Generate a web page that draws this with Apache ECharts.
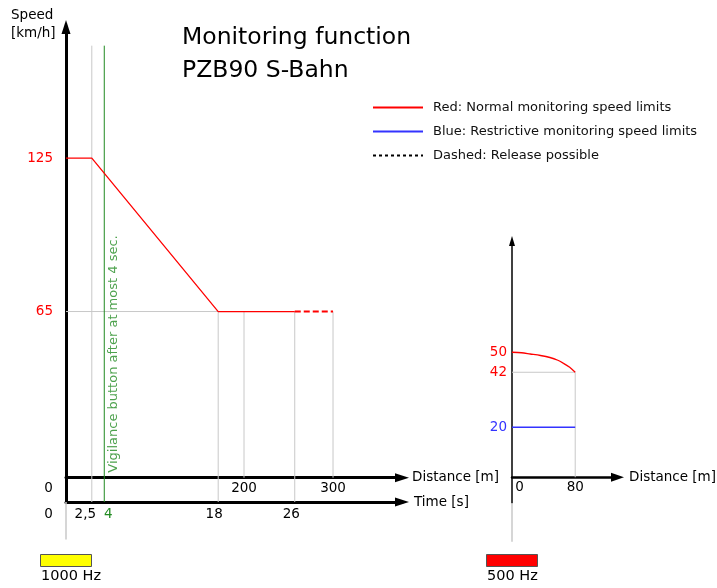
<!DOCTYPE html>
<html>
<head>
<meta charset="utf-8">
<title>Monitoring function PZB90 S-Bahn</title>
<script src="https://cdn.jsdelivr.net/npm/echarts@6/dist/echarts.min.js"></script>
<style>
  html, body { margin: 0; padding: 0; background: #fff; }
  #chart { width: 717px; height: 588px; }
</style>
</head>
<body>
<div id="chart"></div>
<script>
// left panel: distance [m] / speed [km/h]
const redDistance = [0, 29, 171, 257];
const redSpeed = [125, 125, 65, 65];
const releaseDistance = [257, 300];
const releaseSpeed = [65, 65];
const distanceTicks = [0, 200, 300];
const speedTicks = [125, 65];
const timeLabels = ['0', '2,5', '4', '18', '26'];
const timeDistance = [0, 29, 43, 171, 257];

// right panel (500 Hz)
const curveDistance = [0, 12, 23, 36, 48, 58, 65, 73, 80];
const curveSpeed = [50, 49.8, 49.3, 48.7, 47.9, 46.8, 45.6, 44.0, 42];
const blueDistance = [0, 80];
const blueSpeed = [20, 20];
const rightSpeedTicks = [50, 42, 20];
const rightDistanceTicks = [0, 80];

const FONT = 'DejaVu Sans';
const RED = '#ff0000';
const BLUE = '#3333ff';
const GREEN = '#228b22';
const GREY = '#c8c8c8';

const LEFT_YMIN = -9.5, LEFT_YMAX = 176.3, LEFT_XMAX = 377.5;
const RIGHT_YMIN = -10.3, RIGHT_YMAX = 94.5, RIGHT_XMAX = 133.5;

const NAME_RED = 'Red: Normal monitoring speed limits';
const NAME_BLUE = 'Blue: Restrictive monitoring speed limits';
const NAME_DASH = 'Dashed: Release possible';

const pairs = (xs, ys) => xs.map((x, i) => [x, ys[i]]);

function line(data, color, opts) {
  return Object.assign({
    type: 'line',
    data: data,
    symbol: 'none',
    silent: true,
    clip: false,
    animation: false,
    xAxisIndex: 0,
    yAxisIndex: 0,
    lineStyle: { color: color, width: 1 },
    itemStyle: { color: color },
    z: 2
  }, opts || {});
}

const txt = { color: '#000', fontSize: 13.5, fontFamily: FONT };

function axisLine(width, size) {
  return {
    onZero: false,
    lineStyle: { color: '#000', width: width },
    symbol: ['none', 'triangle'],
    symbolSize: size
  };
}

const chart = echarts.init(document.getElementById('chart'), null, { renderer: 'canvas' });

chart.setOption({
  animation: false,
  textStyle: { fontFamily: FONT },
  grid: [
    { left: 66, top: 27, width: 336, height: 475 },
    { left: 512, top: 241, width: 105.5, height: 262 }
  ],
  legend: {
    orient: 'vertical',
    left: 372,
    top: 101,
    padding: 0,
    itemWidth: 50,
    itemHeight: 14,
    itemGap: 11,
    selectedMode: false,
    itemStyle: { opacity: 0 },
    textStyle: { color: '#111', fontSize: 13, fontFamily: FONT, padding: [0, 0, 0, 5] },
    data: [
      { name: NAME_RED },
      { name: NAME_BLUE },
      { name: NAME_DASH, lineStyle: { color: '#000', type: [3, 3], width: 2 } }
    ]
  },
  xAxis: [
    {
      // distance axis sits at speed 0, above the time axis
      gridIndex: 0, type: 'value', min: 0, max: LEFT_XMAX, position: 'bottom', offset: -24.3,
      axisLine: axisLine(3, [9, 14]),
      axisTick: { show: false }, splitLine: { show: false },
      axisLabel: Object.assign({}, txt, {
        customValues: distanceTicks, margin: 4,
        formatter: v => v === 0 ? '{o|0}' : String(v),
        rich: { o: Object.assign({ padding: [0, 35, 0, 0] }, txt) }
      }),
      name: 'Distance [m]', nameLocation: 'end', nameGap: 10,
      nameTextStyle: Object.assign({ align: 'left', verticalAlign: 'middle' }, txt)
    },
    {
      gridIndex: 0, type: 'value', min: 0, max: LEFT_XMAX, position: 'bottom',
      axisLine: axisLine(3, [9, 14]),
      axisTick: { show: false }, splitLine: { show: false },
      axisLabel: Object.assign({}, txt, {
        customValues: timeDistance, margin: 5,
        formatter: v => {
          const i = timeDistance.indexOf(v);
          return '{t' + i + '|' + timeLabels[i] + '}';
        },
        rich: {
          t0: Object.assign({ padding: [0, 35, 0, 0] }, txt),
          t1: Object.assign({ padding: [0, 13, 0, 0] }, txt),
          t2: Object.assign({}, txt, { padding: [0, 0, 0, 8], color: GREEN }),
          t3: Object.assign({ padding: [0, 8, 0, 0] }, txt),
          t4: Object.assign({ padding: [0, 7, 0, 0] }, txt)
        }
      }),
      name: 'Time [s]', nameLocation: 'end', nameGap: 12,
      nameTextStyle: Object.assign({ align: 'left', verticalAlign: 'middle' }, txt)
    },
    {
      gridIndex: 1, type: 'value', min: 0, max: RIGHT_XMAX, position: 'bottom', offset: -25.7,
      axisLine: axisLine(2.5, [9, 13]),
      axisTick: { show: false }, splitLine: { show: false },
      axisLabel: Object.assign({}, txt, {
        customValues: rightDistanceTicks, margin: 3,
        formatter: v => v === 0 ? '{o|0}' : String(v),
        rich: { o: Object.assign({ padding: [0, 0, 0, 15] }, txt) }
      }),
      name: 'Distance [m]', nameLocation: 'end', nameGap: 11.5,
      nameTextStyle: Object.assign({ align: 'left', verticalAlign: 'middle' }, txt)
    }
  ],
  yAxis: [
    {
      gridIndex: 0, type: 'value', min: LEFT_YMIN, max: LEFT_YMAX,
      axisLine: axisLine(3, [9, 14]),
      axisTick: { show: false }, splitLine: { show: false },
      axisLabel: Object.assign({}, txt, { customValues: speedTicks, margin: 13, color: RED })
    },
    {
      gridIndex: 1, type: 'value', min: RIGHT_YMIN, max: RIGHT_YMAX,
      axisLine: axisLine(1.5, [6, 10]),
      axisTick: { show: false }, splitLine: { show: false },
      axisLabel: Object.assign({}, txt, {
        customValues: rightSpeedTicks, margin: 5,
        formatter: v => v === 20 ? '{b|20}' : '{r|' + v + '}',
        rich: {
          r: Object.assign({}, txt, { color: RED }),
          b: Object.assign({}, txt, { color: BLUE })
        }
      })
    }
  ],
  series: [
    // guide lines, left panel
    line([[timeDistance[1], 169], [timeDistance[1], LEFT_YMIN]], GREY),
    line([[timeDistance[3], 65], [timeDistance[3], LEFT_YMIN]], GREY),
    line([[timeDistance[4], 65], [timeDistance[4], LEFT_YMIN]], GREY),
    line([[200, 65], [200, 0]], GREY),
    line([[300, 65], [300, 0]], GREY),
    line([[0, 65], [timeDistance[3], 65]], GREY),
    line([[0, LEFT_YMIN], [0, -24.2]], GREY, { lineStyle: { color: GREY, width: 1.5 } }),
    line([[timeDistance[2], 169], [timeDistance[2], LEFT_YMIN]], GREEN, { z: 3 }),
    {
      type: 'scatter', xAxisIndex: 0, yAxisIndex: 0, silent: true, animation: false,
      data: [[54, 48.4]], symbolSize: 1, itemStyle: { color: 'rgba(0,0,0,0)' },
      label: {
        show: true, position: 'inside', rotate: 90, color: GREEN,
        fontSize: 13, fontFamily: FONT,
        formatter: 'Vigilance button after at most 4 sec.'
      }
    },
    // speed limits, left panel
    line(pairs(redDistance, redSpeed), RED, { name: NAME_RED, lineStyle: { color: RED, width: 1.3 }, z: 4 }),
    line(pairs(releaseDistance, releaseSpeed), RED, { name: NAME_DASH, lineStyle: { color: RED, width: 2, type: [6, 3] }, z: 4 }),
    // right panel
    line([[0, 42], [80, 42]], GREY, { xAxisIndex: 2, yAxisIndex: 1 }),
    line([[80, 42], [80, 0]], GREY, { xAxisIndex: 2, yAxisIndex: 1 }),
    line([[0, RIGHT_YMIN], [0, -25.8]], GREY, { xAxisIndex: 2, yAxisIndex: 1, lineStyle: { color: GREY, width: 1.5 } }),
    line(pairs(curveDistance, curveSpeed), RED, {
      name: NAME_RED, xAxisIndex: 2, yAxisIndex: 1, smooth: 0.3,
      lineStyle: { color: RED, width: 1.3 }, z: 4
    }),
    line(pairs(blueDistance, blueSpeed), BLUE, {
      name: NAME_BLUE, xAxisIndex: 2, yAxisIndex: 1,
      lineStyle: { color: BLUE, width: 1.3 }, z: 4
    })
  ],
  graphic: [
    {
      type: 'text', left: 182, top: 21,
      style: { text: 'Monitoring function\nPZB90 S-Bahn', fill: '#000', font: '23.5px "DejaVu Sans"', lineHeight: 33 }
    },
    {
      type: 'text', left: 11, top: 6,
      style: { text: 'Speed\n[km/h]', fill: '#000', font: '13.5px "DejaVu Sans"', lineHeight: 18 }
    },
    {
      type: 'rect', shape: { x: 40.5, y: 554.5, width: 51, height: 12 },
      style: { fill: '#ffff00', stroke: '#555', lineWidth: 1 }
    },
    {
      type: 'text', left: 41, top: 569,
      style: { text: '1000 Hz', fill: '#000', font: '14.5px "DejaVu Sans"' }
    },
    {
      type: 'rect', shape: { x: 486.5, y: 554.5, width: 51, height: 12 },
      style: { fill: '#ff0000', stroke: '#555', lineWidth: 1 }
    },
    {
      type: 'text', left: 487, top: 569,
      style: { text: '500 Hz', fill: '#000', font: '14.5px "DejaVu Sans"' }
    }
  ]
});
</script>
</body>
</html>
